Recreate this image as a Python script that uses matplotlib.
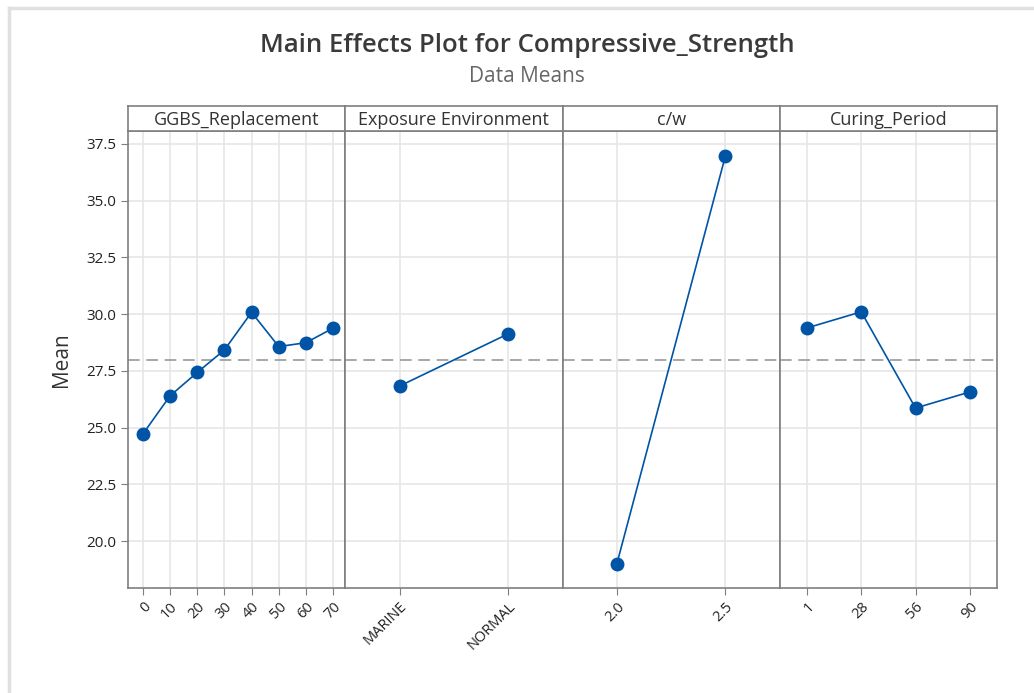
import matplotlib
matplotlib.use("Agg")
import matplotlib.pyplot as plt
from matplotlib.lines import Line2D

# Factor levels and their mean compressive strength
ggbs_levels = ["0", "10", "20", "30", "40", "50", "60", "70"]
ggbs_means = [24.72, 26.40, 27.43, 28.42, 30.08, 28.57, 28.74, 29.38]

exposure_levels = ["MARINE", "NORMAL"]
exposure_means = [26.83, 29.13]

cw_levels = ["2.0", "2.5"]
cw_means = [18.99, 36.98]

curing_levels = ["1", "28", "56", "90"]
curing_means = [29.39, 30.10, 25.86, 26.57]

panel_titles = ["GGBS_Replacement", "Exposure Environment", "c/w", "Curing_Period"]
grand_mean = 27.98
y_ticks = [20.0, 22.5, 25.0, 27.5, 30.0, 32.5, 35.0, 37.5]

plt.rcParams["font.family"] = ["Open Sans", "DejaVu Sans"]

W, H = 1034, 693
fig = plt.figure(figsize=(W / 100, H / 100), dpi=100)

# light outer frame
fig.add_artist(Line2D([9 / W, 9 / W], [0, 1 - 8 / H], transform=fig.transFigure,
                      color="#e0e0e0", lw=2.5))
fig.add_artist(Line2D([9 / W, 1], [1 - 8 / H, 1 - 8 / H], transform=fig.transFigure,
                      color="#e0e0e0", lw=2.5))

left, right = 128 / W, 997 / W
bottom, top = 1 - 588 / H, 1 - 131 / H
strip_top = 1 - 106 / H
pw = (right - left) / 4

panels = [
    (ggbs_levels, ggbs_means, 0.55),
    (exposure_levels, exposure_means, 0.5),
    (cw_levels, cw_means, 0.5),
    (curing_levels, curing_means, 0.5),
]

blue = "#0054a6"
frame_col = "#7f7f7f"

for i, (levels, means, pad) in enumerate(panels):
    ax = fig.add_axes([left + i * pw, bottom, pw, top - bottom])
    x = list(range(len(levels)))
    ax.plot(x, means, color=blue, lw=1.2, marker="o", ms=9, zorder=3)
    ax.axhline(grand_mean, color="#999999", lw=1.2, ls=(0, (7, 4)), zorder=2)
    ax.set_xlim(-pad, len(levels) - 1 + pad - (0.1 if len(levels) > 4 else 0))
    ax.set_ylim(17.93, 38.07)
    ax.set_xticks(x)
    ax.set_xticklabels(levels, rotation=45, ha="right", rotation_mode="anchor",
                       fontsize=10.5, color="#222222")
    ax.set_yticks(y_ticks)
    ax.grid(True, color="#e6e6e6", lw=1.2, zorder=0)
    ax.set_axisbelow(True)
    for s in ax.spines.values():
        s.set_color(frame_col)
        s.set_linewidth(1.2)
    ax.tick_params(axis="x", length=5, color=frame_col, pad=3)
    if i == 0:
        ax.set_yticklabels([f"{v:.1f}" for v in y_ticks], fontsize=11, color="#222222")
        ax.tick_params(axis="y", length=5, color=frame_col)
        ax.set_ylabel("Mean", fontsize=15, color="#333333", labelpad=10)
    else:
        ax.tick_params(axis="y", left=False, labelleft=False)

    # strip header
    sax = fig.add_axes([left + i * pw, top, pw, strip_top - top])
    sax.set_xticks([])
    sax.set_yticks([])
    for s in sax.spines.values():
        s.set_color(frame_col)
        s.set_linewidth(1.2)
    sax.text(0.5, 0.45, panel_titles[i], ha="center", va="center",
             fontsize=13, color="#333333", transform=sax.transAxes)

fig.text(527 / W, 1 - 45 / H, "Main Effects Plot for Compressive_Strength",
         ha="center", va="center", fontsize=18.5, fontweight="semibold", color="#3a3a3a")
fig.text(527 / W, 1 - 77 / H, "Data Means", ha="center", va="center",
         fontsize=15, color="#666666")

fig.savefig("out.png", dpi=100, facecolor="white")
